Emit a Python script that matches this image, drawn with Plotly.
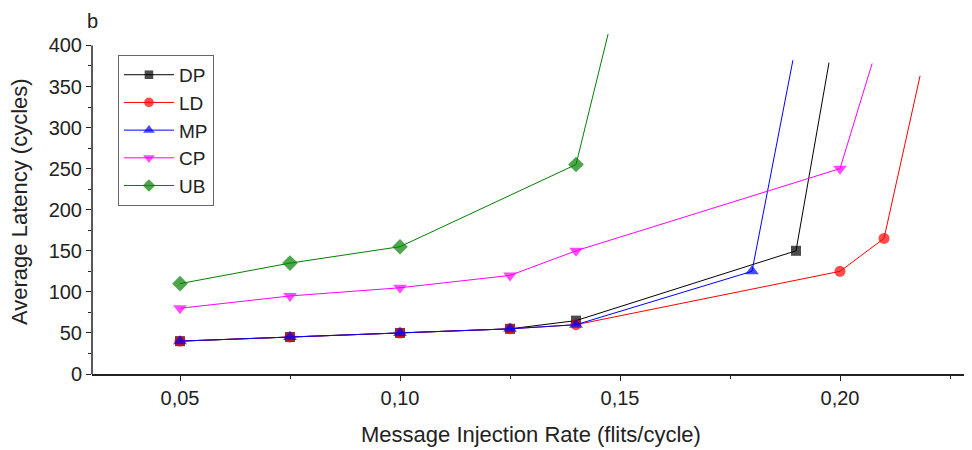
import plotly.graph_objects as go

# injection rate (flits/cycle) and average latency (cycles) per scheme
dp_rate = [0.05, 0.075, 0.10, 0.125, 0.14, 0.19, 0.1975]
dp_lat = [40, 45, 50, 55, 65, 150, 379]

ld_rate = [0.05, 0.075, 0.10, 0.125, 0.14, 0.20, 0.21, 0.2182]
ld_lat = [40, 45, 50, 55, 60, 125, 165, 363]

mp_rate = [0.05, 0.075, 0.10, 0.125, 0.14, 0.18, 0.1893]
mp_lat = [40, 45, 50, 55, 60, 125, 382]

cp_rate = [0.05, 0.075, 0.10, 0.125, 0.14, 0.20, 0.2073]
cp_lat = [80, 95, 105, 120, 150, 250, 378]

ub_rate = [0.05, 0.075, 0.10, 0.14, 0.1473]
ub_lat = [110, 135, 155, 255, 414]

x_ticks = [0.05, 0.10, 0.15, 0.20]
y_ticks = [0, 50, 100, 150, 200, 250, 300, 350, 400]

series = [
    ("DP", dp_rate, dp_lat, "black", "square", 10),
    ("LD", ld_rate, ld_lat, "red", "circle", 11),
    ("MP", mp_rate, mp_lat, "blue", "triangle-up", 12),
    ("CP", cp_rate, cp_lat, "magenta", "triangle-down", 12),
    ("UB", ub_rate, ub_lat, "green", "diamond", 12),
]

fig = go.Figure()
for name, xs, ys, color, symbol, size in series:
    # last point is where the curve runs off the top: line only, no marker
    sizes = [size] * (len(xs) - 1) + [0]
    fig.add_trace(go.Scatter(
        x=xs, y=ys, name=name, mode="lines+markers",
        line=dict(color=color, width=1),
        marker=dict(symbol=symbol, color=color, size=sizes, line=dict(width=0)),
    ))

font = "Arial, Liberation Sans, sans-serif"

# the page body adds an 8px offset, so margins are shifted to compensate
fig.update_layout(
    width=972, height=450,
    margin=dict(l=84, r=8, t=21, b=84),
    paper_bgcolor="white", plot_bgcolor="white",
    separators=", ",
    font=dict(family=font, size=20, color="#222"),
    showlegend=True,
    legend=dict(
        x=0.0295, y=0.925, xanchor="left", yanchor="top",
        bordercolor="#666", borderwidth=1, bgcolor="white",
        font=dict(size=19, color="#222"), itemwidth=50,
        tracegroupgap=0,
    ),
    xaxis=dict(
        range=[0.03, 0.23], tickvals=x_ticks, tickformat=".2f",
        showline=True, linecolor="#222", linewidth=1.5,
        ticks="outside", ticklen=5, tickcolor="#222",
        minor=dict(dtick=0.025, tick0=0, ticks="outside", ticklen=3, tickcolor="#222"),
        showgrid=False, zeroline=False,
    ),
    yaxis=dict(
        range=[0, 420], tickvals=y_ticks,
        showline=False,
        ticks="outside", ticklen=5, tickcolor="#222",
        minor=dict(dtick=25, tick0=0, ticks="outside", ticklen=3, tickcolor="#222"),
        showgrid=False, zeroline=False,
    ),
    shapes=[dict(type="line", xref="paper", yref="y", x0=0, x1=0, y0=0, y1=400,
                 line=dict(color="#222", width=1.5))],
    annotations=[
        dict(text="b", xref="paper", yref="paper", x=0.001, y=1.022,
             xanchor="center", yanchor="middle", showarrow=False, font=dict(size=20)),
        dict(text="Average Latency (cycles)", xref="paper", yref="paper",
             x=-0.0824, y=0.50, xanchor="center", yanchor="middle",
             textangle=-90, showarrow=False, font=dict(size=22)),
        dict(text="Message Injection Rate (flits/cycle)", xref="paper", yref="paper",
             x=0.499, y=-0.1766, xanchor="center", yanchor="middle",
             showarrow=False, font=dict(size=22)),
    ],
)

fig.write_html("out.html")
